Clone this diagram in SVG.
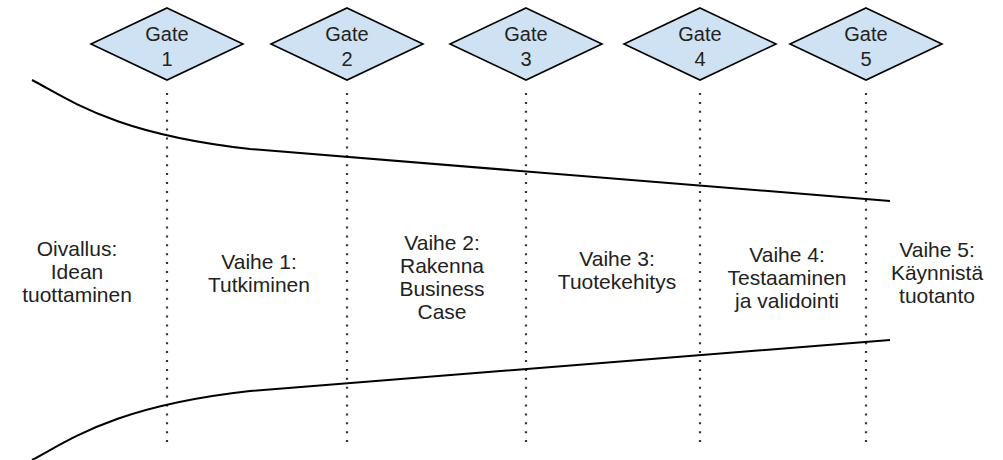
<svg xmlns="http://www.w3.org/2000/svg" width="1003" height="460" viewBox="0 0 1003 460">
<style>
.gate{fill:#cfe2f3;stroke:#000;stroke-width:1.6;stroke-linejoin:miter}
.gt{font-family:"Liberation Sans",Arial,sans-serif;font-size:20px;fill:#222;text-anchor:middle}
.lbl{font-family:"Liberation Sans",Arial,sans-serif;font-size:21px;fill:#222;text-anchor:middle}
.dot{stroke:#333;stroke-width:2.2;stroke-dasharray:2 6.9;fill:none}
.curve{stroke:#000;stroke-width:2;fill:none}
</style>
<rect width="1003" height="460" fill="#fff"/>
<g id="connectors">
<line class="dot" x1="167" y1="93" x2="167" y2="444"/>
<line class="dot" x1="347" y1="93" x2="347" y2="444"/>
<line class="dot" x1="526" y1="93" x2="526" y2="444"/>
<line class="dot" x1="700" y1="93" x2="700" y2="444"/>
<line class="dot" x1="866" y1="93" x2="866" y2="444"/>
<path class="curve" d="M32,80 C70,100 115,134 250,149 L890,201"/>
<path class="curve" d="M32,460 C70,440 115,406 250,391 L890,340"/>
</g>
<g id="gate1"><polygon class="gate" points="167,8 243,44 167,80 91,44"/><text class="gt" x="167" y="41">Gate</text><text class="gt" x="167" y="66">1</text></g>
<g id="gate2"><polygon class="gate" points="347,8 423,44 347,80 271,44"/><text class="gt" x="347" y="41">Gate</text><text class="gt" x="347" y="66">2</text></g>
<g id="gate3"><polygon class="gate" points="526,8 602,44 526,80 450,44"/><text class="gt" x="526" y="41">Gate</text><text class="gt" x="526" y="66">3</text></g>
<g id="gate4"><polygon class="gate" points="700,8 776,44 700,80 624,44"/><text class="gt" x="700" y="41">Gate</text><text class="gt" x="700" y="66">4</text></g>
<g id="gate5"><polygon class="gate" points="866,8 942,44 866,80 790,44"/><text class="gt" x="866" y="41">Gate</text><text class="gt" x="866" y="66">5</text></g>
<g id="phase0"><text class="lbl" x="77" y="256">Oivallus:</text><text class="lbl" x="77" y="279">Idean</text><text class="lbl" x="77" y="302">tuottaminen</text></g>
<g id="phase1"><text class="lbl" x="259" y="269">Vaihe 1:</text><text class="lbl" x="259" y="292">Tutkiminen</text></g>
<g id="phase2"><text class="lbl" x="442" y="250">Vaihe 2:</text><text class="lbl" x="442" y="273">Rakenna</text><text class="lbl" x="442" y="296">Business</text><text class="lbl" x="442" y="319">Case</text></g>
<g id="phase3"><text class="lbl" x="617" y="266">Vaihe 3:</text><text class="lbl" x="617" y="289">Tuotekehitys</text></g>
<g id="phase4"><text class="lbl" x="787" y="262">Vaihe 4:</text><text class="lbl" x="787" y="285">Testaaminen</text><text class="lbl" x="787" y="308">ja validointi</text></g>
<g id="phase5"><text class="lbl" x="937" y="257">Vaihe 5:</text><text class="lbl" x="937" y="280">Käynnistä</text><text class="lbl" x="937" y="303">tuotanto</text></g>
</svg>
